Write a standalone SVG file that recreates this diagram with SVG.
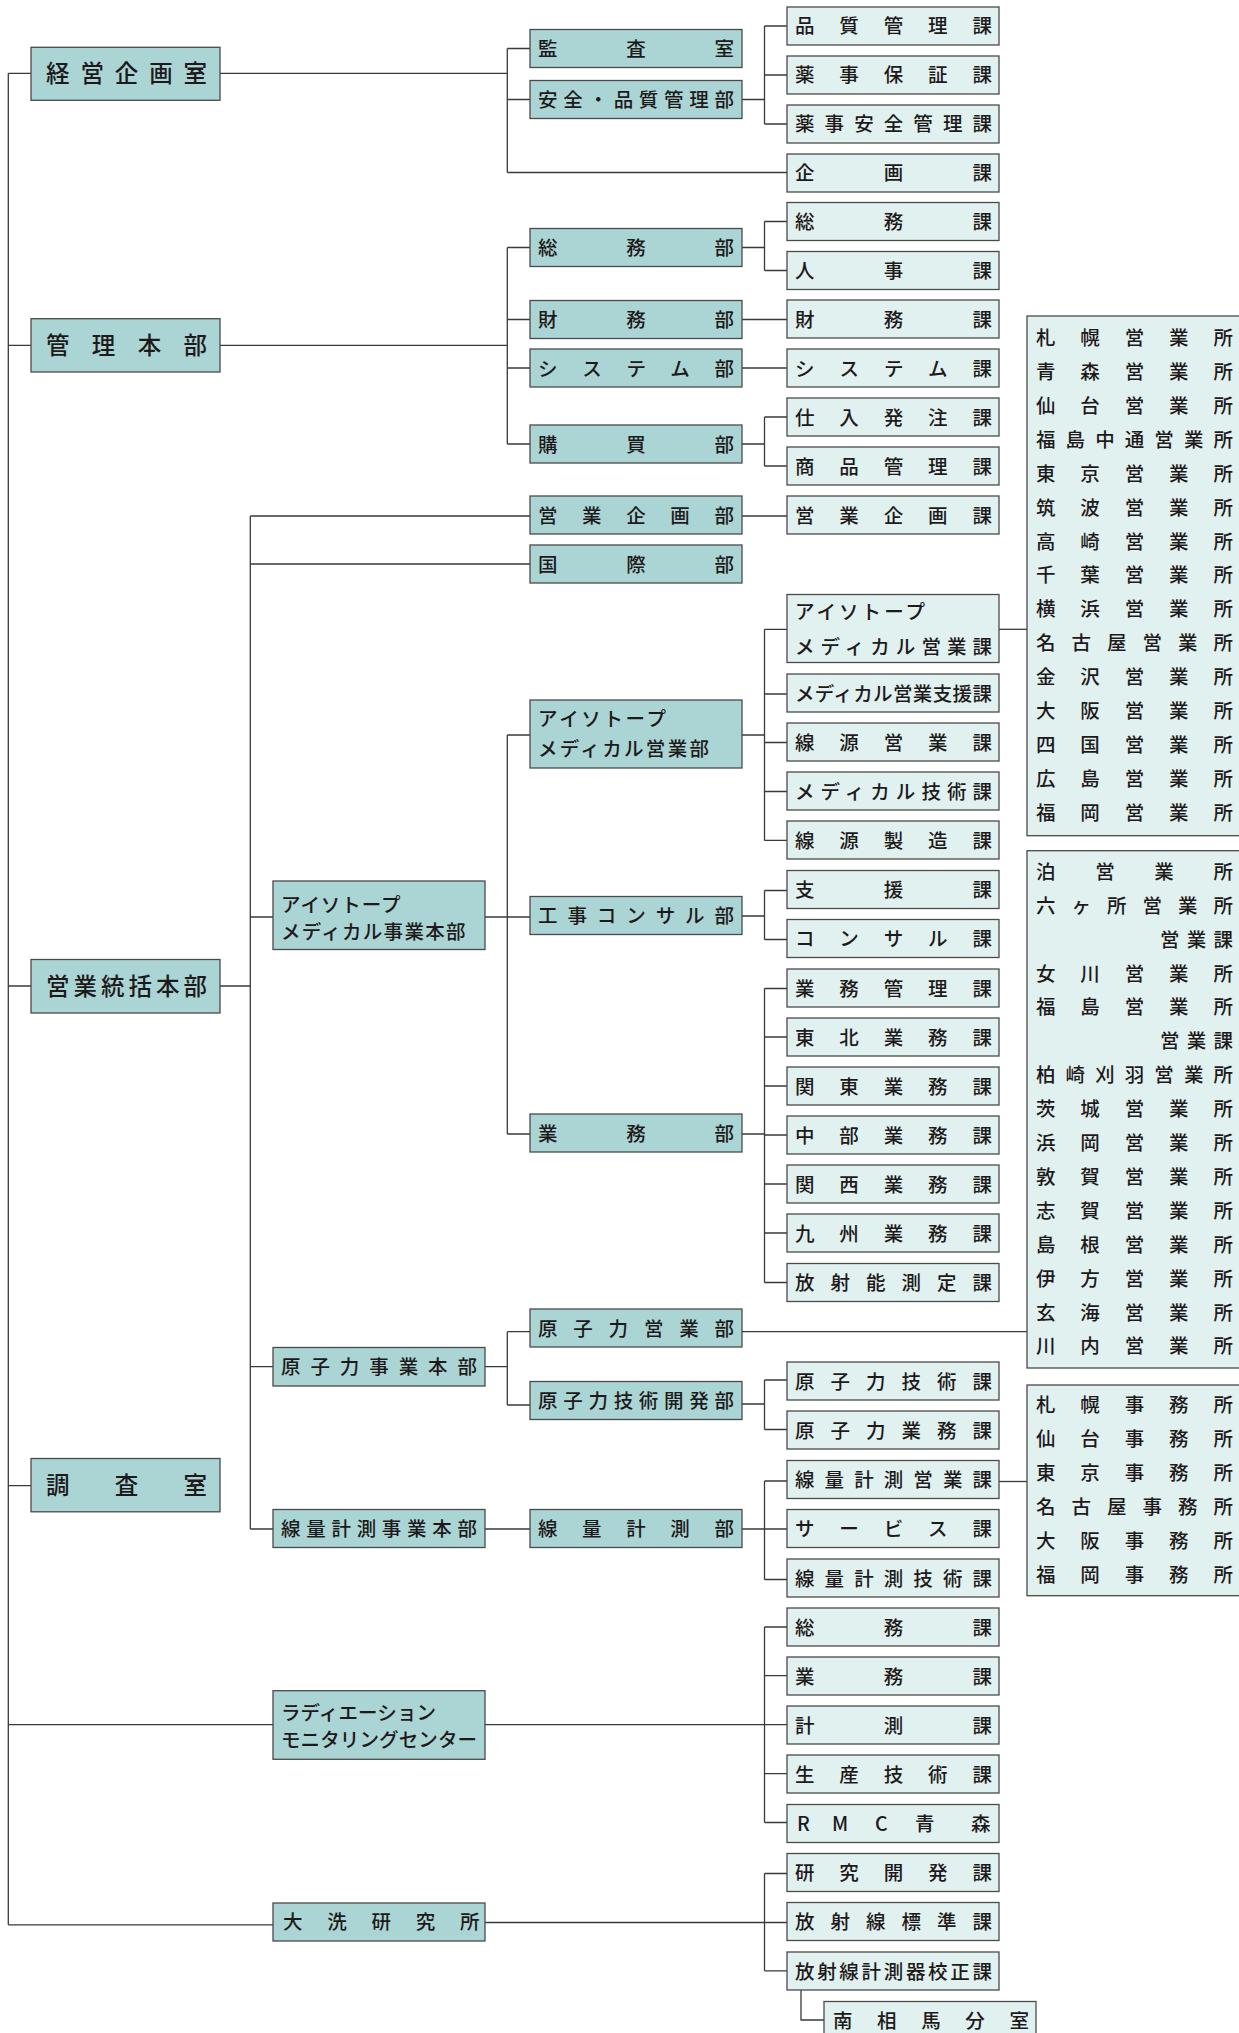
<svg xmlns="http://www.w3.org/2000/svg" width="1239" height="2033" viewBox="0 0 1239 2033">
<style>
.d{fill:#abd5d5;stroke:#4a4a4a;stroke-width:1.3}
.l{fill:#e1f1ef;stroke:#4a4a4a;stroke-width:1.3}
.c{fill:none;stroke:#3a3a3a;stroke-width:1.3}
text{font-family:"Noto Sans CJK JP","Noto Sans CJK SC",sans-serif;fill:#1e1a1b;font-size:19.5px;font-weight:500}
.big{font-size:23.5px}
</style>
<rect width="1239" height="2033" fill="#fff"/>
<g id="connectors">
<path class="c" d="M8.3,73.3V1924.8M8.3,73.3H31M8.3,345.3H31M8.3,986H31M8.3,1485.6H31M8.3,1724.6H273M8.3,1924.8H273"/>
<path class="c" d="M220,73.3H507.3M507.3,48.5V172.5M507.3,48.5H530M507.3,99.5H530M507.3,172.5H787"/>
<path class="c" d="M742,99.5H764.5M764.5,26V124M764.5,26H787M764.5,75H787M764.5,124H787"/>
<path class="c" d="M220,345.3H507.3M507.3,247.5V444M507.3,247.5H530M507.3,319.5H530M507.3,368H530M507.3,444H530"/>
<path class="c" d="M742,247.5H764.5M764.5,221.5V270.5M764.5,221.5H787M764.5,270.5H787"/>
<path class="c" d="M742,319.5H787M742,368H787"/>
<path class="c" d="M742,444H764.5M764.5,417V466M764.5,417H787M764.5,466H787"/>
<path class="c" d="M220,986H250.3M250.3,516V1529M250.3,516H530M250.3,564H530M250.3,917H273M250.3,1366.6H273M250.3,1529H273"/>
<path class="c" d="M742,516H787"/>
<path class="c" d="M485,917H507.3M507.3,735V1134M507.3,735H530M507.3,917H530M507.3,1134H530"/>
<path class="c" d="M742,735H764.5M764.5,629.3V840.4M764.5,629.3H787M764.5,694H787M764.5,742.5H787M764.5,791.5H787M764.5,840.4H787"/>
<path class="c" d="M999,629.3H1027"/>
<path class="c" d="M742,916H764.5M764.5,890.5V939.5M764.5,890.5H787M764.5,939.5H787"/>
<path class="c" d="M742,1134H764.5M764.5,988.5V1282.5M764.5,988.5H787M764.5,1037H787M764.5,1086H787M764.5,1135H787M764.5,1184H787M764.5,1233H787M764.5,1282.5H787"/>
<path class="c" d="M485,1366.6H507.3M507.3,1331.7V1405M507.3,1331.7H530M507.3,1405H530"/>
<path class="c" d="M742,1331.7H1027"/>
<path class="c" d="M742,1404H764.5M764.5,1380V1429.5M764.5,1380H787M764.5,1429.5H787"/>
<path class="c" d="M485,1529H530M742,1529H764.5M764.5,1481V1579.5M764.5,1481H787M764.5,1529H787M764.5,1579.5H787"/>
<path class="c" d="M999,1481.5H1027"/>
<path class="c" d="M485,1724.6H787M764.5,1627V1822.5M764.5,1627H787M764.5,1675.7H787M764.5,1773.6H787M764.5,1822.5H787"/>
<path class="c" d="M485,1922.5H787M764.5,1873.5V1970.8M764.5,1873.5H787M764.5,1970.8H787"/>
<path class="c" d="M801,1990V2020H824"/>
</g>
<g id="n-keiei"><rect class="d" x="31" y="47.3" width="189" height="53"/><text class="big" x="46" y="81.5" textLength="161" lengthAdjust="spacing">経営企画室</text></g>
<g id="n-kanri"><rect class="d" x="31" y="318.7" width="189" height="53.3"/><text class="big" x="46" y="354" textLength="161" lengthAdjust="spacing">管理本部</text></g>
<g id="n-eigyo-tokatsu"><rect class="d" x="31" y="959.5" width="189" height="53.5"/><text class="big" x="46" y="995" textLength="161" lengthAdjust="spacing">営業統括本部</text></g>
<g id="n-chosa"><rect class="d" x="31" y="1458.5" width="189" height="53.3"/><text class="big" x="46" y="1494" textLength="161" lengthAdjust="spacing">調査室</text></g>
<g id="n-im-honbu"><rect class="d" x="273" y="881" width="212" height="68.5"/><text x="281" y="912" textLength="119.5" lengthAdjust="spacing">アイソトープ</text><text x="281" y="938.5" textLength="184.5" lengthAdjust="spacing">メディカル事業本部</text></g>
<g id="n-genshiryoku-honbu"><rect class="d" x="273" y="1347.5" width="212" height="38.5"/><text x="281" y="1374" textLength="196" lengthAdjust="spacing">原子力事業本部</text></g>
<g id="n-senryo-honbu"><rect class="d" x="273" y="1509.5" width="212" height="38"/><text x="281" y="1536" textLength="196" lengthAdjust="spacing">線量計測事業本部</text></g>
<g id="n-rmc"><rect class="d" x="273" y="1690.7" width="212" height="68.6"/><text x="281" y="1720" textLength="155" lengthAdjust="spacing">ラディエーション</text><text x="281" y="1747" textLength="196" lengthAdjust="spacing">モニタリングセンター</text></g>
<g id="n-oarai"><rect class="d" x="273" y="1903" width="212" height="38"/><text x="283" y="1929" textLength="196.5" lengthAdjust="spacing">大洗研究所</text></g>
<g id="n-kansa"><rect class="d" x="530" y="29.5" width="212" height="38"/><text x="538" y="56" textLength="196" lengthAdjust="spacing">監査室</text></g>
<g id="n-anzen"><rect class="d" x="530" y="80.5" width="212" height="38"/><text x="538" y="107" textLength="196" lengthAdjust="spacing">安全・品質管理部</text></g>
<g id="n-somu-bu"><rect class="d" x="530" y="228.5" width="212" height="38"/><text x="538" y="255" textLength="196" lengthAdjust="spacing">総務部</text></g>
<g id="n-zaimu-bu"><rect class="d" x="530" y="300.5" width="212" height="38"/><text x="538" y="327" textLength="196" lengthAdjust="spacing">財務部</text></g>
<g id="n-system-bu"><rect class="d" x="530" y="349" width="212" height="38"/><text x="538" y="375.5" textLength="196" lengthAdjust="spacing">システム部</text></g>
<g id="n-kobai-bu"><rect class="d" x="530" y="425" width="212" height="38"/><text x="538" y="451.5" textLength="196" lengthAdjust="spacing">購買部</text></g>
<g id="n-eigyokikaku-bu"><rect class="d" x="530" y="496" width="212" height="38"/><text x="538" y="522.5" textLength="196" lengthAdjust="spacing">営業企画部</text></g>
<g id="n-kokusai-bu"><rect class="d" x="530" y="545" width="212" height="38"/><text x="538" y="571.5" textLength="196" lengthAdjust="spacing">国際部</text></g>
<g id="n-im-eigyo-bu"><rect class="d" x="530" y="700" width="212" height="68"/><text x="538" y="726" textLength="128" lengthAdjust="spacing">アイソトープ</text><text x="538" y="755.5" textLength="171" lengthAdjust="spacing">メディカル営業部</text></g>
<g id="n-koji-bu"><rect class="d" x="530" y="896.5" width="212" height="38"/><text x="538" y="923" textLength="196" lengthAdjust="spacing">工事コンサル部</text></g>
<g id="n-gyomu-bu"><rect class="d" x="530" y="1114" width="212" height="38"/><text x="538" y="1140.5" textLength="196" lengthAdjust="spacing">業務部</text></g>
<g id="n-gen-eigyo-bu"><rect class="d" x="530" y="1309" width="212" height="38"/><text x="538" y="1335.5" textLength="196" lengthAdjust="spacing">原子力営業部</text></g>
<g id="n-gen-gijutsu-bu"><rect class="d" x="530" y="1381.5" width="212" height="38"/><text x="538" y="1408" textLength="196" lengthAdjust="spacing">原子力技術開発部</text></g>
<g id="n-senryo-bu"><rect class="d" x="530" y="1509.5" width="212" height="38"/><text x="538" y="1536" textLength="196" lengthAdjust="spacing">線量計測部</text></g>
<g id="k01"><rect class="l" x="787" y="7" width="212" height="38"/><text x="795" y="33.4" textLength="197" lengthAdjust="spacing">品質管理課</text></g>
<g id="k02"><rect class="l" x="787" y="56" width="212" height="38"/><text x="795" y="82.4" textLength="197" lengthAdjust="spacing">薬事保証課</text></g>
<g id="k03"><rect class="l" x="787" y="105" width="212" height="38"/><text x="795" y="131.4" textLength="197" lengthAdjust="spacing">薬事安全管理課</text></g>
<g id="k04"><rect class="l" x="787" y="154" width="212" height="38"/><text x="795" y="180.4" textLength="197" lengthAdjust="spacing">企画課</text></g>
<g id="k05"><rect class="l" x="787" y="202.5" width="212" height="38"/><text x="795" y="229" textLength="197" lengthAdjust="spacing">総務課</text></g>
<g id="k06"><rect class="l" x="787" y="251.5" width="212" height="38"/><text x="795" y="278" textLength="197" lengthAdjust="spacing">人事課</text></g>
<g id="k07"><rect class="l" x="787" y="300" width="212" height="38"/><text x="795" y="326.5" textLength="197" lengthAdjust="spacing">財務課</text></g>
<g id="k08"><rect class="l" x="787" y="349" width="212" height="38"/><text x="795" y="375.5" textLength="197" lengthAdjust="spacing">システム課</text></g>
<g id="k09"><rect class="l" x="787" y="398" width="212" height="38"/><text x="795" y="424.5" textLength="197" lengthAdjust="spacing">仕入発注課</text></g>
<g id="k10"><rect class="l" x="787" y="447" width="212" height="38"/><text x="795" y="473.5" textLength="197" lengthAdjust="spacing">商品管理課</text></g>
<g id="k11"><rect class="l" x="787" y="496" width="212" height="38"/><text x="795" y="522.5" textLength="197" lengthAdjust="spacing">営業企画課</text></g>
<g id="k12"><rect class="l" x="787" y="594.5" width="212" height="68"/><text x="795" y="619" textLength="130" lengthAdjust="spacing">アイソトープ</text><text x="795" y="653.5" textLength="197" lengthAdjust="spacing">メディカル営業課</text></g>
<g id="k13"><rect class="l" x="787" y="674" width="212" height="38"/><text x="795" y="700.5" textLength="197" lengthAdjust="spacing">メディカル営業支援課</text></g>
<g id="k14"><rect class="l" x="787" y="723" width="212" height="38"/><text x="795" y="749.5" textLength="197" lengthAdjust="spacing">線源営業課</text></g>
<g id="k15"><rect class="l" x="787" y="772" width="212" height="38"/><text x="795" y="798.5" textLength="197" lengthAdjust="spacing">メディカル技術課</text></g>
<g id="k16"><rect class="l" x="787" y="821" width="212" height="38"/><text x="795" y="847.5" textLength="197" lengthAdjust="spacing">線源製造課</text></g>
<g id="k17"><rect class="l" x="787" y="870.5" width="212" height="38"/><text x="795" y="897" textLength="197" lengthAdjust="spacing">支援課</text></g>
<g id="k18"><rect class="l" x="787" y="919.5" width="212" height="38"/><text x="795" y="946" textLength="197" lengthAdjust="spacing">コンサル課</text></g>
<g id="k19"><rect class="l" x="787" y="969" width="212" height="38"/><text x="795" y="995.5" textLength="197" lengthAdjust="spacing">業務管理課</text></g>
<g id="k20"><rect class="l" x="787" y="1018" width="212" height="38"/><text x="795" y="1044.5" textLength="197" lengthAdjust="spacing">東北業務課</text></g>
<g id="k21"><rect class="l" x="787" y="1067" width="212" height="38"/><text x="795" y="1093.5" textLength="197" lengthAdjust="spacing">関東業務課</text></g>
<g id="k22"><rect class="l" x="787" y="1116" width="212" height="38"/><text x="795" y="1142.5" textLength="197" lengthAdjust="spacing">中部業務課</text></g>
<g id="k23"><rect class="l" x="787" y="1165" width="212" height="38"/><text x="795" y="1191.5" textLength="197" lengthAdjust="spacing">関西業務課</text></g>
<g id="k24"><rect class="l" x="787" y="1214" width="212" height="38"/><text x="795" y="1240.5" textLength="197" lengthAdjust="spacing">九州業務課</text></g>
<g id="k25"><rect class="l" x="787" y="1263.5" width="212" height="38"/><text x="795" y="1290" textLength="197" lengthAdjust="spacing">放射能測定課</text></g>
<g id="k26"><rect class="l" x="787" y="1362" width="212" height="38"/><text x="795" y="1388.5" textLength="197" lengthAdjust="spacing">原子力技術課</text></g>
<g id="k27"><rect class="l" x="787" y="1411" width="212" height="38"/><text x="795" y="1437.5" textLength="197" lengthAdjust="spacing">原子力業務課</text></g>
<g id="k28"><rect class="l" x="787" y="1460.5" width="212" height="38"/><text x="795" y="1487" textLength="197" lengthAdjust="spacing">線量計測営業課</text></g>
<g id="k29"><rect class="l" x="787" y="1509.5" width="212" height="38"/><text x="795" y="1536" textLength="197" lengthAdjust="spacing">サービス課</text></g>
<g id="k30"><rect class="l" x="787" y="1559" width="212" height="38"/><text x="795" y="1585.5" textLength="197" lengthAdjust="spacing">線量計測技術課</text></g>
<g id="k31"><rect class="l" x="787" y="1608" width="212" height="38"/><text x="795" y="1634.5" textLength="197" lengthAdjust="spacing">総務課</text></g>
<g id="k32"><rect class="l" x="787" y="1657" width="212" height="38"/><text x="795" y="1683.5" textLength="197" lengthAdjust="spacing">業務課</text></g>
<g id="k33"><rect class="l" x="787" y="1706" width="212" height="38"/><text x="795" y="1732.5" textLength="197" lengthAdjust="spacing">計測課</text></g>
<g id="k34"><rect class="l" x="787" y="1755" width="212" height="38"/><text x="795" y="1781.5" textLength="197" lengthAdjust="spacing">生産技術課</text></g>
<g id="k35"><rect class="l" x="787" y="1804.5" width="212" height="38"/><text x="797 832 875 915 971" y="1831">RMC青森</text></g>
<g id="k36"><rect class="l" x="787" y="1853.5" width="212" height="38"/><text x="795" y="1880" textLength="197" lengthAdjust="spacing">研究開発課</text></g>
<g id="k37"><rect class="l" x="787" y="1902.5" width="212" height="38"/><text x="795" y="1929" textLength="197" lengthAdjust="spacing">放射線標準課</text></g>
<g id="k38"><rect class="l" x="787" y="1952" width="212" height="38"/><text x="795" y="1978.5" textLength="197" lengthAdjust="spacing">放射線計測器校正課</text></g>
<g id="k39"><rect class="l" x="824" y="2001.5" width="212" height="40"/><text x="833" y="2028" textLength="196" lengthAdjust="spacing">南相馬分室</text></g>
<g id="office-im"><rect class="l" x="1027" y="316" width="220" height="519.7"/>
<text x="1036" y="344.9" textLength="197" lengthAdjust="spacing">札幌営業所</text>
<text x="1036" y="378.8" textLength="197" lengthAdjust="spacing">青森営業所</text>
<text x="1036" y="412.8" textLength="197" lengthAdjust="spacing">仙台営業所</text>
<text x="1036" y="446.7" textLength="197" lengthAdjust="spacing">福島中通営業所</text>
<text x="1036" y="480.6" textLength="197" lengthAdjust="spacing">東京営業所</text>
<text x="1036" y="514.6" textLength="197" lengthAdjust="spacing">筑波営業所</text>
<text x="1036" y="548.5" textLength="197" lengthAdjust="spacing">高崎営業所</text>
<text x="1036" y="582.4" textLength="197" lengthAdjust="spacing">千葉営業所</text>
<text x="1036" y="616.3" textLength="197" lengthAdjust="spacing">横浜営業所</text>
<text x="1036" y="650.3" textLength="197" lengthAdjust="spacing">名古屋営業所</text>
<text x="1036" y="684.2" textLength="197" lengthAdjust="spacing">金沢営業所</text>
<text x="1036" y="718.1" textLength="197" lengthAdjust="spacing">大阪営業所</text>
<text x="1036" y="752.1" textLength="197" lengthAdjust="spacing">四国営業所</text>
<text x="1036" y="786" textLength="197" lengthAdjust="spacing">広島営業所</text>
<text x="1036" y="819.9" textLength="197" lengthAdjust="spacing">福岡営業所</text>
</g>
<g id="office-gen"><rect class="l" x="1027" y="850.7" width="220" height="517.3"/>
<text x="1036" y="878.8" textLength="197" lengthAdjust="spacing">泊営業所</text>
<text x="1036" y="912.7" textLength="197" lengthAdjust="spacing">六ヶ所営業所</text>
<text x="1160" y="946.6" textLength="73" lengthAdjust="spacing">営業課</text>
<text x="1036" y="980.5" textLength="197" lengthAdjust="spacing">女川営業所</text>
<text x="1036" y="1014.4" textLength="197" lengthAdjust="spacing">福島営業所</text>
<text x="1160" y="1048.3" textLength="73" lengthAdjust="spacing">営業課</text>
<text x="1036" y="1082.2" textLength="197" lengthAdjust="spacing">柏崎刈羽営業所</text>
<text x="1036" y="1116.1" textLength="197" lengthAdjust="spacing">茨城営業所</text>
<text x="1036" y="1150" textLength="197" lengthAdjust="spacing">浜岡営業所</text>
<text x="1036" y="1183.9" textLength="197" lengthAdjust="spacing">敦賀営業所</text>
<text x="1036" y="1217.8" textLength="197" lengthAdjust="spacing">志賀営業所</text>
<text x="1036" y="1251.7" textLength="197" lengthAdjust="spacing">島根営業所</text>
<text x="1036" y="1285.6" textLength="197" lengthAdjust="spacing">伊方営業所</text>
<text x="1036" y="1319.5" textLength="197" lengthAdjust="spacing">玄海営業所</text>
<text x="1036" y="1353.4" textLength="197" lengthAdjust="spacing">川内営業所</text>
</g>
<g id="office-senryo"><rect class="l" x="1027" y="1385" width="220" height="210.7"/>
<text x="1036" y="1412.4" textLength="197" lengthAdjust="spacing">札幌事務所</text>
<text x="1036" y="1446.4" textLength="197" lengthAdjust="spacing">仙台事務所</text>
<text x="1036" y="1480.4" textLength="197" lengthAdjust="spacing">東京事務所</text>
<text x="1036" y="1514.4" textLength="197" lengthAdjust="spacing">名古屋事務所</text>
<text x="1036" y="1548.4" textLength="197" lengthAdjust="spacing">大阪事務所</text>
<text x="1036" y="1582.4" textLength="197" lengthAdjust="spacing">福岡事務所</text>
</g>
</svg>
